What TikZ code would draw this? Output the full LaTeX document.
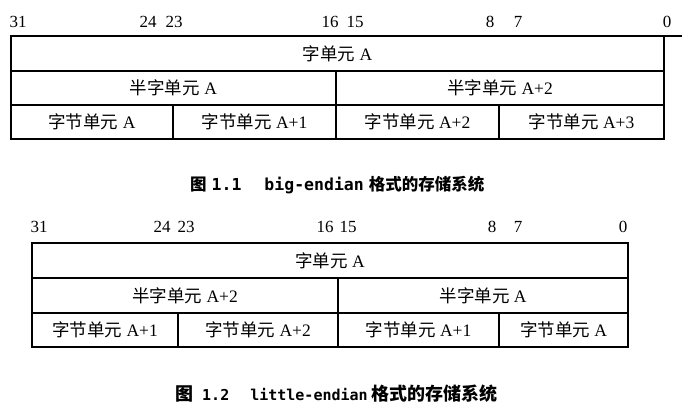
\documentclass[tikz,border=0pt]{standalone}
\usepackage{fontspec}
\setmainfont{Liberation Serif}
\newfontfamily\cjk{Noto Sans CJK SC}
\newfontfamily\monof{DejaVu Sans Mono}
\begin{document}
\begin{tikzpicture}[x=1pt,y=-1pt,
  cell/.style={draw, line width=1.4pt, inner sep=0pt, outer sep=0pt,
    font=\fontsize{17.5}{18}\selectfont},
  frame/.style={line width=2.6pt},
  bitno/.style={inner sep=0pt, font=\fontsize{17}{17}\selectfont},
  capA/.style={inner sep=0pt, anchor=west, font=\fontsize{16.5}{17}\selectfont},
  capB/.style={inner sep=0pt, anchor=west, font=\fontsize{18}{18}\selectfont}]
\useasboundingbox[fill=white] (0,0) rectangle (690,410);

% ---------- Figure 1.1 ----------
\node[bitno] (a31) at (18,22) {31};
\node[bitno] (a24) at (148,22) {24};
\node[bitno] (a23) at (174,22) {23};
\node[bitno] (a16) at (330,22) {16};
\node[bitno] (a15) at (355,22) {15};
\node[bitno] (a8) at (490,22) {8};
\node[bitno] (a7) at (518,22) {7};
\node[bitno] (a0) at (667,22) {0};

\node[cell, minimum width=653pt, minimum height=35pt] (aw) at (337.5,53.5) {{\cjk 字单元} A};
\node[cell, minimum width=325pt, minimum height=34pt] (ah1) at (173.5,88) {{\cjk 半字单元} A};
\node[cell, minimum width=328pt, minimum height=34pt] (ah2) at (500,88) {{\cjk 半字单元} A+2};
\node[cell, minimum width=162pt, minimum height=34pt] (ab1) at (92,122) {{\cjk 字节单元} A};
\node[cell, minimum width=163pt, minimum height=34pt] (ab2) at (254.5,122) {{\cjk 字节单元} A+1};
\node[cell, minimum width=163pt, minimum height=34pt] (ab3) at (417.5,122) {{\cjk 字节单元} A+2};
\node[cell, minimum width=165pt, minimum height=34pt] (ab4) at (581.5,122) {{\cjk 字节单元} A+3};
\draw[frame] (aw.north west) rectangle (ab4.south east);
\coordinate (aext) at (682,36);
\draw[frame] (aw.north east) -- (aext);

\node[capA] (capa) at (190,185) {{\cjk\bfseries 图}\hspace{5pt}{\monof\bfseries 1.1}\hspace{23pt}{\monof\bfseries big-endian}\hspace{5pt}{\cjk\bfseries 格式的存储系统}};

% ---------- Figure 1.2 ----------
\node[bitno] (b31) at (39,227) {31};
\node[bitno] (b24) at (162,227) {24};
\node[bitno] (b23) at (186,227) {23};
\node[bitno] (b16) at (325,227) {16};
\node[bitno] (b15) at (348,227) {15};
\node[bitno] (b8) at (492,227) {8};
\node[bitno] (b7) at (518,227) {7};
\node[bitno] (b0) at (623,227) {0};

\node[cell, minimum width=596pt, minimum height=35pt] (bw) at (330,260.5) {{\cjk 字单元} A};
\node[cell, minimum width=306pt, minimum height=35pt] (bh1) at (185,295.5) {{\cjk 半字单元} A+2};
\node[cell, minimum width=290pt, minimum height=35pt] (bh2) at (483,295.5) {{\cjk 半字单元} A};
\node[cell, minimum width=146pt, minimum height=34pt] (bb1) at (105,330) {{\cjk 字节单元} A+1};
\node[cell, minimum width=160pt, minimum height=34pt] (bb2) at (258,330) {{\cjk 字节单元} A+2};
\node[cell, minimum width=161pt, minimum height=34pt] (bb3) at (418.5,330) {{\cjk 字节单元} A+1};
\node[cell, minimum width=129pt, minimum height=34pt] (bb4) at (563.5,330) {{\cjk 字节单元} A};
\draw[frame] (bw.north west) rectangle (bb4.south east);

\node[capB] (capb) at (175,394) {{\cjk\bfseries 图}\hspace{9pt}{\monof\bfseries\fontsize{15}{15}\selectfont 1.2}\hspace{21pt}{\monof\bfseries\fontsize{15}{15}\selectfont little-endian}\hspace{4pt}{\cjk\bfseries 格式的存储系统}};
\end{tikzpicture}
\end{document}
